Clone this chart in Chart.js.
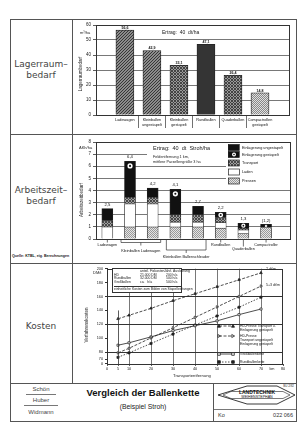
<!DOCTYPE html>
<html lang="de"><head><meta charset="utf-8">
<script src="https://cdn.jsdelivr.net/npm/chart.js@4.4.1/dist/chart.umd.min.js"></script>
<style>
html,body{margin:0;padding:0;background:#fff}
body{width:306px;height:434px;position:relative;overflow:hidden;font-family:"Liberation Sans",Arial,sans-serif;color:#222}
.t{position:absolute;white-space:nowrap;line-height:1}
.h{position:absolute;height:1px;background:#555}
.v{position:absolute;width:1px;background:#555}
canvas{position:absolute}
.side{position:absolute;left:10px;width:62px;text-align:center;font-family:"DejaVu Sans",sans-serif;font-size:9px;line-height:11px;color:#444}
.rot{position:absolute;white-space:nowrap;transform:translate(-50%,-50%) rotate(-90deg);font-size:4.5px;line-height:1}
</style></head><body>
<script>
// ---------- DATA ----------
const storageCategories = [["Ladewagen"],["Kleinballen","ungestapelt"],["Kleinballen","gestapelt"],["Rundballen"],["Quaderballen"],["Compactrollen","gestapelt"]];
const storageValues = [56.6, 42.9, 33.1, 47.1, 26.4, 14.8];
const storageValueLabels = ["56,6","42,9","33,1","47,1","26,4","14,8"];

const laborCategories = ["Ladewagen","Kleinballen Ladewagen","Kleinballen Ladewagen","Kleinballen Ballenschleuder","Kleinballen Ballenschleuder","Rundballen","Quaderballen","Compactroller"];
const laborPressen      = [0,   1.0, 1.0, 1.0, 1.0, 0.9, 0.45, 0.95];
const laborLaden        = [1.0, 1.9, 1.9, 0.4, 0.4, 0.45, 0.3, 0];
const laborTransport    = [0.5, 0.55,0.55,0.6, 0.6, 0.4, 0.15, 0];
const laborEinlGestapelt   = [0, 2.95, 0, 2.1, 0, 0.45, 0.4, 0.25];
const laborEinlUngestapelt = [1.0, 0, 0.75, 0, 0.7, 0, 0, 0];
const laborTotalLabels = ["2,5","6,4","4,2","4,1","2,7","2,2","1,3","(1,2)"];
const laborSeriesNames = ["Pressen","Laden","Transport","Einlagerung gestapelt","Einlagerung ungestapelt"];

const costDistance = [5,10,20,30,40,50,60,70];
const costHdGestapelt   = [128,133,143,154,164,174,184,194];
const costHdUngestapelt = [79,85.6,100.5,115,130,145,160,175];
const costGrossballen   = [90,93.5,102,111,118,125,134,142];
const costRundballen    = [72.6,79,92.5,106,119,132,144.6,159];
const costXTicks = [0,5,10,20,30,40,50,60,70,75,80];
const costXTickLabels = ["0","5","10","20","30","40","50","60","70","km","80"];
const costYTicks = [63,70,80,100,120,140,160,180,200];
const costYTickLabels = ["0","70","80","100","120","140","160","180","200"];
const costSeriesNames = [["HD-Presse Transport u.","Einlagerung gestapelt"],["HD-Presse","Transport ungestapelt","Einlagerung gestapelt"],["Großballenkette"],["Rundballenkette"]];
</script>

<div style="position:absolute;left:10px;top:19px;width:285px;height:401px;border:1px solid #555"></div>
<div class="v" style="left:72px;top:19px;height:364px"></div>
<div class="h" style="left:10px;top:134px;width:286px"></div>
<div class="h" style="left:10px;top:263px;width:286px"></div>
<div class="h" style="left:10px;top:383px;width:286px"></div>
<div class="v" style="left:213px;top:383px;height:38px"></div>
<div class="side" style="top:59px">Lagerraum–<br>bedarf</div>
<div class="side" style="top:185px">Arbeitszeit–<br>bedarf</div>
<div class="side" style="top:321px">Kosten</div>
<div class="t" style="left:12px;top:255px;font-size:3.6px;font-weight:bold">Quelle: KTBL, eig. Berechnungen</div>

<canvas id="c1" width="222" height="113" style="left:73px;top:20px"></canvas>
<canvas id="c2" width="222" height="127" style="left:73px;top:135px"></canvas>
<canvas id="c3" width="222" height="118" style="left:73px;top:264px"></canvas>

<!-- chart 1 annotations -->
<div class="t" style="left:80px;top:31px;font-size:4px">m³/ha</div>
<div class="rot" style="left:81px;top:74px">Lagerraumbedarf</div>
<div class="t" style="left:162px;top:30px;font-size:5px">Ertrag:&nbsp; 40&nbsp; dt/ha</div>
<!-- chart 2 annotations -->
<div class="t" style="left:79px;top:146px;font-size:4px">AKh/ha</div>
<div class="rot" style="left:82px;top:200px">Arbeitszeitbedarf</div>
<div class="t" style="left:153px;top:146px;font-size:5.5px">Ertrag:&nbsp; 40&nbsp; dt&nbsp; Stroh/ha</div>
<div class="t" style="left:153px;top:155px;font-size:3.8px;line-height:4.6px">Feldentfernung 1 km,<br>mittlere Parzellengröße 3 ha</div>
<!-- chart 3 annotations -->
<div class="t" style="left:93px;top:271px;font-size:4px">DM/t</div>
<div class="rot" style="left:87px;top:325px">Verfahrenskosten</div>
<div class="t" style="left:173px;top:374px;font-size:4.2px">Transportentfernung</div>
<div class="t" style="left:112px;top:268px;width:70px;height:25px;border:0.8px solid #333;background:#fff;font-size:3.4px;line-height:3.6px;padding:1px 0 0 1px;box-sizing:border-box">
<div style="position:relative;height:16px">
<span style="position:absolute;left:26px;top:0">anteil. Fixkosten</span><span style="position:absolute;left:50px;top:0">Jährl. Auslastung</span>
<span style="position:absolute;left:0;top:3.6px">HD</span><span style="position:absolute;left:26px;top:3.6px">21.000 DM</span><span style="position:absolute;left:52px;top:3.6px">200 h/a</span>
<span style="position:absolute;left:0;top:7.2px">Rundballen</span><span style="position:absolute;left:26px;top:7.2px">32.000 DM</span><span style="position:absolute;left:52px;top:7.2px">500 h/a</span>
<span style="position:absolute;left:0;top:10.8px">Großballen</span><span style="position:absolute;left:26px;top:10.8px">ca.&nbsp;&nbsp; h/a</span><span style="position:absolute;left:52px;top:10.8px">500 h/a</span>
</div>
<div style="border-top:0.6px solid #333;padding-top:1px">einheitliche Kosten zum Bilden von Stapelleistungen</div>
</div>
<div class="t" style="left:266px;top:268px;font-size:3.6px">2 dt/m</div>
<div class="t" style="left:266px;top:284px;font-size:3.6px">5+3 dt/m</div>

<!-- footer -->
<div class="t" style="left:10px;width:62px;text-align:center;top:386px;font-size:6px;color:#444">Schön</div>
<div class="h" style="left:26px;top:394px;width:30px;background:#777"></div>
<div class="t" style="left:10px;width:62px;text-align:center;top:397px;font-size:6px;color:#444">Huber</div>
<div class="h" style="left:24px;top:405px;width:34px;background:#777"></div>
<div class="t" style="left:10px;width:62px;text-align:center;top:409px;font-size:6px;color:#444">Widmann</div>
<div class="t" style="left:73px;width:140px;text-align:center;top:388px;font-size:9.5px;font-weight:bold;color:#111">Vergleich der Ballenkette</div>
<div class="t" style="left:73px;width:140px;text-align:center;top:404px;font-size:6.8px;color:#222">(Beispiel Stroh)</div>
<svg style="position:absolute;left:213px;top:383px" width="84" height="38" viewBox="0 0 84 38">
 <polygon points="5,12 34,3 64,3 82,12 64,21 34,21" fill="none" stroke="#222" stroke-width="0.9"/>
 <polyline points="10,12 18,8.5 70,8.5 77,12 70,15.5 18,15.5 10,12" fill="none" stroke="#222" stroke-width="0.6"/>
 <text x="44" y="11" font-size="5" text-anchor="middle" font-family="Liberation Sans" font-weight="bold" fill="#111">LANDTECHNIK</text>
 <text x="44" y="15.3" font-size="3.6" text-anchor="middle" font-family="Liberation Sans" fill="#111">WEIHENSTEPHAN</text>
 <text x="81" y="4" font-size="3" text-anchor="end" font-family="Liberation Sans" fill="#333">BU 2/82</text>
 <line x1="0" y1="26.5" x2="84" y2="26.5" stroke="#555" stroke-width="0.8"/>
 <text x="5" y="33.5" font-size="5.5" font-family="Liberation Sans" fill="#333">Ko</text>
 <text x="80" y="33.5" font-size="5.5" text-anchor="end" font-family="Liberation Sans" fill="#333">022 066</text>
</svg>

<script>
Chart.defaults.font.family = '"Liberation Sans", Arial, sans-serif';
Chart.defaults.color = '#222';

function makePattern(ctx, bg, fg, kind, s){
  const c = document.createElement('canvas'); c.width = s; c.height = s;
  const x = c.getContext('2d');
  x.fillStyle = bg; x.fillRect(0,0,s,s);
  x.strokeStyle = fg; x.fillStyle = fg; x.lineWidth = 0.9;
  if (kind === 'diag' || kind === 'cross') {
    x.beginPath(); x.moveTo(-1,s+1); x.lineTo(s+1,-1); x.moveTo(-1,1); x.lineTo(1,-1); x.moveTo(s-1,s+1); x.lineTo(s+1,s-1); x.stroke();
  }
  if (kind === 'cross') {
    x.beginPath(); x.moveTo(-1,-1); x.lineTo(s+1,s+1); x.moveTo(s-1,-1); x.lineTo(s+1,1); x.moveTo(-1,s-1); x.lineTo(1,s+1); x.stroke();
  }
  if (kind === 'dots') { x.fillRect(0,0,1,1); x.fillRect(s/2,s/2,1,1); }
  return ctx.createPattern(c,'repeat');
}

const framePlugin = { id:'frame', afterDraw(ch){ const a=ch.chartArea,c=ch.ctx; c.save(); c.strokeStyle='#333'; c.lineWidth=1; c.strokeRect(Math.round(a.left)+0.5,Math.round(a.top)+0.5,Math.round(a.right-a.left)-1,Math.round(a.bottom-a.top)); c.restore(); } };

// ---------- CHART 1 ----------
const ctx1 = document.getElementById('c1').getContext('2d');
const storageFills = [
  makePattern(ctx1,'#8c8c8c','#2e2e2e','diag',3),
  makePattern(ctx1,'#8c8c8c','#2e2e2e','diag',3),
  makePattern(ctx1,'#9a9a9a','#3a3a3a','cross',3),
  makePattern(ctx1,'#8a8a8a','#2a2a2a','cross',2),
  makePattern(ctx1,'#9a9a9a','#3a3a3a','cross',3),
  makePattern(ctx1,'#e0e0e0','#888','dots',2)
];
const storageLabelPlugin = { id:'sl', afterDraw(ch){
  const c=ch.ctx, x=ch.scales.x, y=ch.scales.y, a=ch.chartArea; c.save();
  c.font='bold 3.6px "Liberation Sans"'; c.textAlign='center'; c.fillStyle='#111'; c.textBaseline='bottom';
  storageValues.forEach((v,i)=>{ c.fillText(storageValueLabels[i], x.getPixelForValue(i), y.getPixelForValue(v)-0.5); });
  c.font='3.8px "Liberation Sans"'; c.textBaseline='middle'; c.strokeStyle='#333'; c.lineWidth=0.7;
  storageCategories.forEach((lab,i)=>{ const px=x.getPixelForValue(i);
    lab.forEach((l,k)=>c.fillText(l, px, a.bottom+5+k*4.6));
    if(i<storageCategories.length-1){ const sx=Math.round(x.getPixelForValue(i+0.5))+0.5; c.beginPath(); c.moveTo(sx,a.bottom); c.lineTo(sx,a.bottom+13); c.stroke(); }
  });
  c.restore(); } };
new Chart(ctx1, {
  type:'bar',
  data:{ datasets:[{ data: storageValues.map((v,i)=>({x:i,y:v})), backgroundColor: storageFills, borderColor:'#222', borderWidth:0.8, barThickness:18 }] },
  options:{ responsive:false, animation:false, devicePixelRatio:1,
    layout:{padding:{top:5,right:5,left:0,bottom:0}},
    plugins:{legend:{display:false},tooltip:{enabled:false}},
    scales:{
      x:{type:'linear',offset:false,min:-1.07,max:6.11,grid:{display:false,offset:false},border:{display:false},ticks:{display:false},afterFit:s=>{s.height=18;}},
      y:{min:0,max:60,ticks:{stepSize:10,font:{size:4.5},padding:2,color:'#222'},grid:{color:'#555',lineWidth:0.8,tickLength:3,tickColor:'#333'},border:{color:'#333'},afterFit:s=>{s.width=23;}}
    } },
  plugins:[framePlugin, storageLabelPlugin]
});

// ---------- CHART 2 ----------
const ctx2 = document.getElementById('c2').getContext('2d');
const laborFills = [
  makePattern(ctx2,'#e4e4e4','#9a9a9a','dots',2),
  '#ffffff',
  makePattern(ctx2,'#a0a0a0','#404040','cross',3),
  '#111111',
  '#111111'
];
const laborData = [laborPressen, laborLaden, laborTransport, laborEinlGestapelt, laborEinlUngestapelt];
const laborTotals = laborPressen.map((_,i)=>laborData.reduce((s,arr)=>s+arr[i],0));
const laborPlugin = {
  id:'lp',
  beforeDatasetsDraw(ch){
    const c=ch.ctx; c.save(); c.fillStyle='#fff';
    c.fillRect(74,8,80,23);
    c.fillRect(153,7,65,45);
    const order=[4,3,2,1,0], ys=[12.5,19.5,28,37,46];
    c.font='3.8px "Liberation Sans"'; c.textBaseline='middle'; c.textAlign='left';
    order.forEach((di,k)=>{ const ds=ch.data.datasets[di]; const yy=ys[k];
      c.fillStyle=ds.backgroundColor; c.fillRect(155,yy-3,11,6); c.strokeStyle='#222'; c.lineWidth=0.7; c.strokeRect(155.5,yy-3,11,6);
      if(di===3){ c.fillStyle='#fff'; c.beginPath(); c.arc(161,yy,2,0,Math.PI*2); c.fill(); c.fillStyle='#111'; c.beginPath(); c.arc(161,yy,0.8,0,Math.PI*2); c.fill(); }
      c.fillStyle='#111'; c.fillText(ds.label,169,yy);
    });
    c.restore();
  },
  afterDatasetsDraw(ch){
    const c=ch.ctx, x=ch.scales.x, y=ch.scales.y, a=ch.chartArea; c.save();
    const meta=ch.getDatasetMeta(3);
    meta.data.forEach((el,i)=>{ if(!laborEinlGestapelt[i]) return; const h=el.base-el.y; const r=Math.min(2.6,h/2-0.3); const cy=el.y+Math.min(4.5,h/2);
      c.fillStyle='#fff'; c.beginPath(); c.arc(el.x,cy,r,0,Math.PI*2); c.fill(); c.fillStyle='#111'; c.beginPath(); c.arc(el.x,cy,r*0.4,0,Math.PI*2); c.fill(); });
    c.font='4.2px "Liberation Sans"'; c.textAlign='center'; c.textBaseline='bottom'; c.fillStyle='#111';
    laborTotals.forEach((t,i)=>c.fillText(laborTotalLabels[i], x.getPixelForValue(i), y.getPixelForValue(t)-2));
    c.font='3.8px "Liberation Sans"'; c.textBaseline='middle'; c.strokeStyle='#333'; c.lineWidth=0.7;
    const b=a.bottom; let i=0; let grp=0;
    while(i<laborCategories.length){
      let j=i; while(j+1<laborCategories.length && laborCategories[j+1]===laborCategories[i]) j++;
      if(j>i){ const l=x.getPixelForValue(i)-9, r=x.getPixelForValue(j)+8, m=(l+r)/2;
        const hy = grp===0 ? b+3.5 : b+11, ly = grp===0 ? b+12 : b+18;
        c.beginPath(); c.moveTo(l,b+1); c.lineTo(l,hy); c.lineTo(r,hy); c.lineTo(r,b+1); c.moveTo(m,hy); c.lineTo(m,hy+3); c.stroke();
        c.fillText(laborCategories[i], m, ly); grp++;
      } else { const px=x.getPixelForValue(i); const ly = laborCategories[i]==='Quaderballen' ? b+10 : b+6;
        c.beginPath(); c.moveTo(px,b); c.lineTo(px,ly-2.5); c.stroke(); c.fillText(laborCategories[i], px, ly); }
      i=j+1;
    }
    c.restore();
  }
};
new Chart(ctx2, {
  type:'bar',
  data:{ datasets: laborData.map((arr,k)=>({ label:laborSeriesNames[k], data: arr.map((v,i)=>({x:i,y:v||null})), backgroundColor:laborFills[k], borderColor:'#222', borderWidth:0.7, barThickness:11 })) },
  options:{ responsive:false, animation:false, devicePixelRatio:1,
    layout:{padding:{top:7,right:4,left:0,bottom:0}},
    plugins:{legend:{display:false},tooltip:{enabled:false}},
    scales:{
      x:{type:'linear',offset:false,stacked:true,min:-0.5,max:8.1,grid:{display:false,offset:false},border:{display:false},ticks:{display:false},afterFit:s=>{s.height=23;}},
      y:{stacked:true,min:0,max:8,ticks:{stepSize:1,font:{size:4.5},padding:2,color:'#222'},grid:{color:'#555',lineWidth:0.8,tickLength:3,tickColor:'#333'},border:{color:'#333'},afterFit:s=>{s.width=23;}}
    } },
  plugins:[framePlugin, laborPlugin]
});

// ---------- CHART 3 ----------
const ctx3 = document.getElementById('c3').getContext('2d');
const costSeries = [costHdGestapelt, costHdUngestapelt, costGrossballen, costRundballen];
const costStyles = [
  {dash:[3,1.5], point:'triangle', fill:'#222', rot:0},
  {dash:[3,1.5], point:'triangle', fill:'#fff', rot:90},
  {dash:[], point:'rect', fill:'#fff', rot:0},
  {dash:[1.5,1.5], point:'rect', fill:'#222', rot:0}
];
const costPlugin = {
  id:'cp',
  afterDatasetsDraw(ch){
    const c=ch.ctx, x=ch.scales.x, y=ch.scales.y; c.save();
    c.strokeStyle='#333'; c.lineWidth=0.8;
    const vx=Math.round(x.getPixelForValue(5))+0.5; c.beginPath(); c.moveTo(vx,y.getPixelForValue(140)); c.lineTo(vx,ch.chartArea.bottom); c.stroke();
    const ys=[62,72,90,98]; c.font='3.4px "Liberation Sans"'; c.textBaseline='middle'; c.textAlign='left';
    ch.data.datasets.forEach((ds,k)=>{ const yy=ys[k];
      c.strokeStyle='#222'; c.lineWidth=0.8; c.setLineDash(costStyles[k].dash); c.beginPath(); c.moveTo(146,yy); c.lineTo(160,yy); c.stroke(); c.setLineDash([]);
      [146,160].forEach(px=>{ c.fillStyle=costStyles[k].fill; c.beginPath();
        if(costStyles[k].point==='rect'){ c.rect(px-1.3,yy-1.3,2.6,2.6);} else if(costStyles[k].rot){ c.moveTo(px+1.6,yy); c.lineTo(px-1.2,yy-1.5); c.lineTo(px-1.2,yy+1.5); c.closePath(); } else { c.moveTo(px,yy-1.6); c.lineTo(px+1.5,yy+1.2); c.lineTo(px-1.5,yy+1.2); c.closePath(); }
        c.fill(); c.stroke(); });
      c.fillStyle='#111'; costSeriesNames[k].forEach((l,n)=>c.fillText(l,167,yy+n*3.8));
    });
    c.restore();
  }
};
new Chart(ctx3, {
  type:'line',
  data:{ datasets: costSeries.map((arr,k)=>({ label:costSeriesNames[k].join(' '), data: costDistance.map((d,i)=>({x:d,y:arr[i]})), borderColor:'#222', borderWidth:0.8, borderDash:costStyles[k].dash, pointStyle:costStyles[k].point, pointRotation:costStyles[k].rot, pointRadius:1.5, pointBackgroundColor:costStyles[k].fill, pointBorderColor:'#222', pointBorderWidth:0.7, tension:0, fill:false })) },
  options:{ responsive:false, animation:false, devicePixelRatio:1,
    layout:{padding:{top:2,right:12,left:0,bottom:0}},
    plugins:{legend:{display:false},tooltip:{enabled:false}},
    scales:{
      x:{type:'linear',min:0,max:80,
        afterBuildTicks:s=>{ s.ticks=costXTicks.map(v=>({value:v})); },
        ticks:{font:{size:3.8},padding:1,color:'#222',autoSkip:false,maxRotation:0,callback:(v)=>costXTickLabels[costXTicks.indexOf(v)]},
        grid:{color:c=>[10,20,30,40,50,60,70].includes(c.tick&&c.tick.value)?'#555':'rgba(0,0,0,0)',lineWidth:0.8,tickLength:2,tickColor:c=>(c.tick&&c.tick.value===75)?'rgba(0,0,0,0)':'#333'},
        border:{color:'#333'}, afterFit:s=>{s.height=18;}},
      y:{min:63,max:200,
        afterBuildTicks:s=>{ s.ticks=costYTicks.map(v=>({value:v})); },
        ticks:{font:{size:3.8},padding:2,color:'#222',autoSkip:false,callback:(v)=>costYTickLabels[costYTicks.indexOf(v)]},
        grid:{color:c=>[80,120,160].includes(c.tick&&c.tick.value)?'#333':'rgba(0,0,0,0)',lineWidth:1.1,tickLength:2,tickColor:'#333'},
        border:{color:'#333'}, afterFit:s=>{s.width=34;}}
    } },
  plugins:[framePlugin, costPlugin]
});
</script>
</body></html>
